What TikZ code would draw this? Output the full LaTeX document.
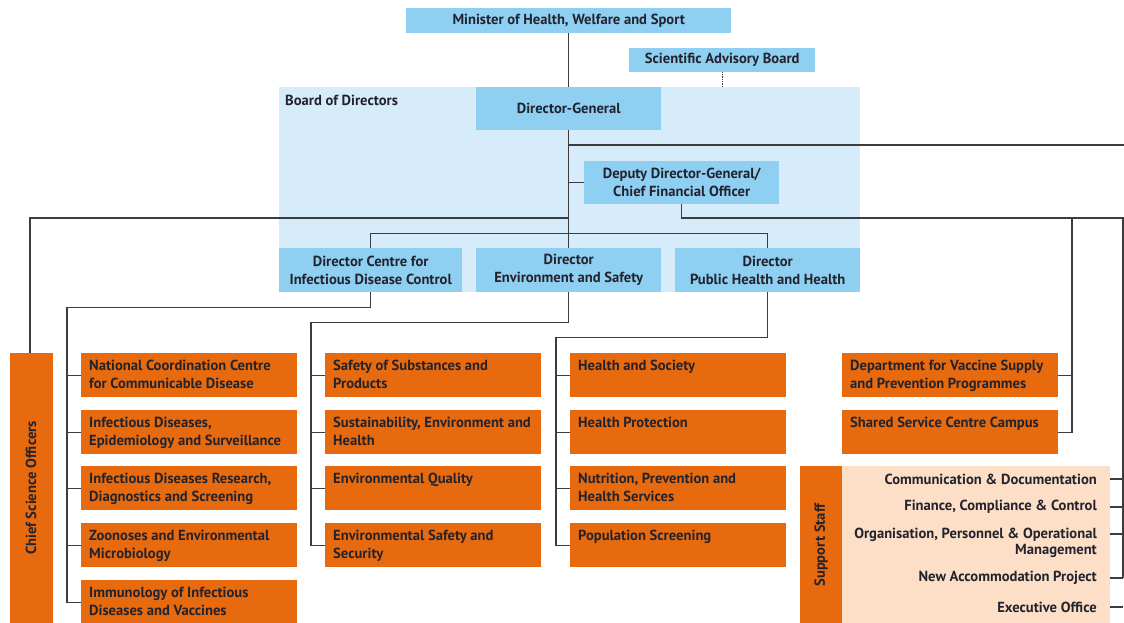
\documentclass[tikz,border=0pt]{standalone}
\usepackage{fontspec}
\setmainfont{PT Sans}
\usetikzlibrary{calc}
\definecolor{bluebox}{RGB}{142,207,242}
\definecolor{boardbg}{RGB}{215,236,251}
\definecolor{orangebox}{RGB}{232,106,14}
\definecolor{peach}{RGB}{252,223,198}
\definecolor{txt}{RGB}{35,35,45}
\definecolor{wire}{RGB}{60,60,60}
\newcommand{\bigfont}{\bfseries\fontsize{14.6}{18}\selectfont}
\tikzset{
  bbox/.style={fill=bluebox, draw=none, inner sep=0pt, align=center, text=txt, font=\bigfont},
  obox/.style={fill=orangebox, draw=none, anchor=north west, inner xsep=3pt, inner ysep=7pt, text=txt, font=\bigfont},
  vbar/.style={fill=orangebox, draw=none, anchor=north west, inner sep=0pt},
  wireline/.style={draw=wire, line width=1.2pt},
  thinwire/.style={draw=wire, line width=0.7pt},
  sstext/.style={anchor=east, align=right, text=txt, inner sep=0pt, font=\bfseries\fontsize{14.6}{15.5}\selectfont},
}
\newcommand{\otext}[1]{\parbox[c][30pt][t]{210pt}{\raggedright\leftskip=5pt #1}}
\begin{document}
\begin{tikzpicture}[x=1pt,y=-1pt]
\useasboundingbox (0,0) rectangle (1124,623);
% board background
\node[fill=boardbg, anchor=north west, minimum width=581pt, minimum height=205pt, inner sep=0pt] (board) at (279,87) {};
\node[anchor=north west, inner sep=0pt, text=txt, font=\bigfont] (boardlbl) at (285,95) {Board of Directors};
% blue boxes
\node[bbox, anchor=north west, minimum width=325pt, minimum height=25pt] (min) at (406,8) {Minister of Health, Welfare and Sport};
\node[bbox, anchor=north west, minimum width=186pt, minimum height=24pt] (sab) at (629,48) {Scientific Advisory Board};
\node[bbox, anchor=north west, minimum width=185pt, minimum height=43pt] (dg) at (476,87) {Director-General};
\node[bbox, anchor=north west, minimum width=195pt, minimum height=43pt] (ddg) at (584,161) {Deputy Director-General/\\Chief Financial Officer};
\node[bbox, anchor=north west, minimum width=183pt, minimum height=44pt] (d1) at (279,248) {Director Centre for\\Infectious Disease Control};
\node[bbox, anchor=north west, minimum width=185pt, minimum height=44pt] (d2) at (476,248) {Director\\Environment and Safety};
\node[bbox, anchor=north west, minimum width=185pt, minimum height=44pt] (d3) at (675,248) {Director\\Public Health and Health};
% chief science officers bar
\node[vbar, minimum width=43pt, minimum height=275pt] (cso) at (10,353) {};
\node[rotate=90, text=txt, inner sep=0pt, font=\bigfont] (csolbl) at (31,488) {Chief Science Officers};
% column 1
\node[obox] (a1) at (81,353) {\otext{National Coordination Centre\\for Communicable Disease}};
\node[obox] (a2) at (81,410) {\otext{Infectious Diseases,\\Epidemiology and Surveillance}};
\node[obox] (a3) at (81,466) {\otext{Infectious Diseases Research,\\Diagnostics and Screening}};
\node[obox] (a4) at (81,523) {\otext{Zoonoses and Environmental\\Microbiology}};
\node[obox] (a5) at (81,580) {\otext{Immunology of Infectious\\Diseases and Vaccines}};
% column 2
\node[obox] (b1) at (325,353) {\otext{Safety of Substances and\\Products}};
\node[obox] (b2) at (325,410) {\otext{Sustainability, Environment and\\Health}};
\node[obox] (b3) at (325,466) {\otext{Environmental Quality}};
\node[obox] (b4) at (325,523) {\otext{Environmental Safety and\\Security}};
% column 3
\node[obox] (c1) at (570,353) {\otext{Health and Society}};
\node[obox] (c2) at (570,410) {\otext{Health Protection}};
\node[obox] (c3) at (570,466) {\otext{Nutrition, Prevention and\\Health Services}};
\node[obox] (c4) at (570,523) {\otext{Population Screening}};
% column 4
\node[obox] (e1) at (842,353) {\otext{Department for Vaccine Supply\\and Prevention Programmes}};
\node[obox] (e2) at (842,410) {\otext{Shared Service Centre Campus}};
% support staff
\node[vbar, minimum width=42pt, minimum height=160pt] (ssbar) at (800,466) {};
\node[rotate=90, text=txt, inner sep=0pt, font=\bigfont] (sslbl) at (821,545) {Support Staff};
\node[fill=peach, anchor=north west, minimum width=268pt, minimum height=160pt, inner sep=0pt] (ss) at (842,466) {};
\node[sstext] (s1) at (1097,479) {Communication \& Documentation};
\node[sstext] (s2) at (1097,507) {Finance, Compliance \& Control};
\node[sstext, anchor=north east] (s3) at (1097,528) {Organisation, Personnel \& Operational\\Management};
\node[sstext] (s4) at (1097,578) {New Accommodation Project};
\node[sstext] (s5) at (1097,607) {Executive Office};
% coordinates
\coordinate (rtop) at (1124,145);
\coordinate (rv) at (1123,218);
\coordinate (rvb) at (1123,578);
\coordinate (lv) at (30,218);
\coordinate (bx) at (1072,218);
% connectors
\draw[wireline] (min.south) -- (dg.north);
\draw[thinwire, densely dotted] (sab.south) -- (sab.south |- dg.north);
\draw[wireline] (dg.south) -- (d2.north);
\draw[wireline] (dg.south |- rtop) -- (rtop);
\draw[wireline] (dg.south |- ddg.west) -- (ddg.west);
\draw[wireline] (dg.south |- lv) -- (lv) -- (lv |- cso.north);
\draw[wireline] (ddg.south) -- (ddg.south |- rv) -- (rv) -- (rvb);
\draw[wireline] (bx) -- (bx |- e2.east) -- (e2.east);
\draw[wireline] (bx |- e1.east) -- (e1.east);
\draw[thinwire] (d1.north) -- ++(0,-15) -| (d3.north);
% column 1
\draw[wireline] (d1.south) -- ++(0,15) -| ($(a1.west)+(-14,0)$) |- (a5.west);
\foreach \n in {a1,a2,a3,a4} \draw[wireline] ($(\n.west)+(-14,0)$) -- (\n.west);
% column 2
\draw[wireline] (d2.south) -- ++(0,30) -| ($(b1.west)+(-14,0)$) |- (b4.west);
\foreach \n in {b1,b2,b3} \draw[wireline] ($(\n.west)+(-14,0)$) -- (\n.west);
% column 3
\draw[wireline] (d3.south) -- ++(0,45) -| ($(c1.west)+(-14,0)$) |- (c4.west);
\foreach \n in {c1,c2,c3} \draw[wireline] ($(\n.west)+(-14,0)$) -- (\n.west);
% support staff
\foreach \n in {s1,s2,s4,s5} \draw[wireline] (ss.east |- \n.east) -- (rv |- \n.east);
\draw[wireline] (ss.east |- s3.north east) ++(0,6) -- ++(13,0);
\end{tikzpicture}
\end{document}
